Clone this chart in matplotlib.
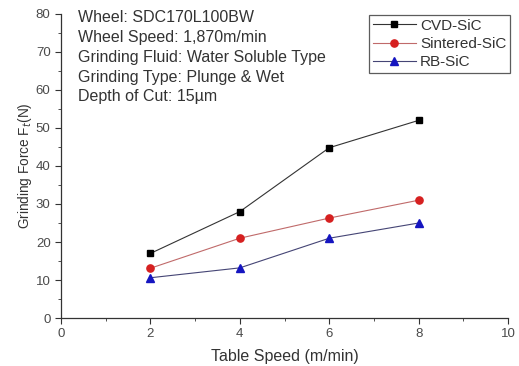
import matplotlib
matplotlib.use('Agg')
import matplotlib.pyplot as plt
from matplotlib.ticker import MultipleLocator

plt.rcParams['font.family'] = ['Liberation Sans', 'DejaVu Sans']

# Data
table_speed = [2, 4, 6, 8]
cvd_sic = [17, 28, 44.8, 52]
sintered_sic = [13.1, 21, 26.3, 31]
rb_sic = [10.6, 13.2, 21, 25]

conditions = [
    'Wheel: SDC170L100BW',
    'Wheel Speed: 1,870m/min',
    'Grinding Fluid: Water Soluble Type',
    'Grinding Type: Plunge & Wet',
    'Depth of Cut: 15\u00b5m',
]

fig = plt.figure(figsize=(5.19, 3.66), dpi=100)
ax = fig.add_axes([0.1175, 0.131, 0.8615, 0.831])

ax.plot(table_speed, cvd_sic, color='#333333', lw=0.8, marker='s', ms=5,
        mfc='black', mec='black', label='CVD-SiC')
ax.plot(table_speed, sintered_sic, color='#c06a6a', lw=0.8, marker='o', ms=5.2,
        mfc='#d62020', mec='#d62020', label='Sintered-SiC')
ax.plot(table_speed, rb_sic, color='#454575', lw=0.8, marker='^', ms=5.8,
        mfc='#1515c0', mec='#1515c0', label='RB-SiC')

ax.set_xlim(0, 10)
ax.set_ylim(0, 80)
ax.xaxis.set_major_locator(MultipleLocator(2))
ax.xaxis.set_minor_locator(MultipleLocator(1))
ax.yaxis.set_major_locator(MultipleLocator(10))
ax.yaxis.set_minor_locator(MultipleLocator(5))
ax.tick_params(which='both', direction='out', colors='#333333', labelsize=9.5,
               labelcolor='#4a4a4a')
ax.tick_params(which='major', length=4)
ax.tick_params(which='minor', length=2)
for side in ['top', 'right']:
    ax.spines[side].set_visible(False)
for side in ['left', 'bottom']:
    ax.spines[side].set_color('#333333')
    ax.spines[side].set_linewidth(0.9)

ax.set_xlabel('Table Speed (m/min)', fontsize=11.5, color='#333333', labelpad=6)
ax.set_ylabel('Grinding Force F$_t$(N)', fontsize=9.8, color='#333333', labelpad=1)

# test conditions, one line at a time
for i, line in enumerate(conditions):
    ax.text(0.037, 0.987 - i * 0.065, line, transform=ax.transAxes,
            ha='left', va='center', fontsize=11.5, color='#333333')

leg = ax.legend(loc='upper right', bbox_to_anchor=(1.005, 0.997), fontsize=11,
                frameon=True, fancybox=False, edgecolor='#333333',
                handlelength=2.8, borderpad=0.25, labelspacing=0.28,
                handletextpad=0.3, borderaxespad=0.0)
leg.get_frame().set_linewidth(0.9)
for t in leg.get_texts():
    t.set_color('#333333')

fig.savefig('out.png', dpi=100)
